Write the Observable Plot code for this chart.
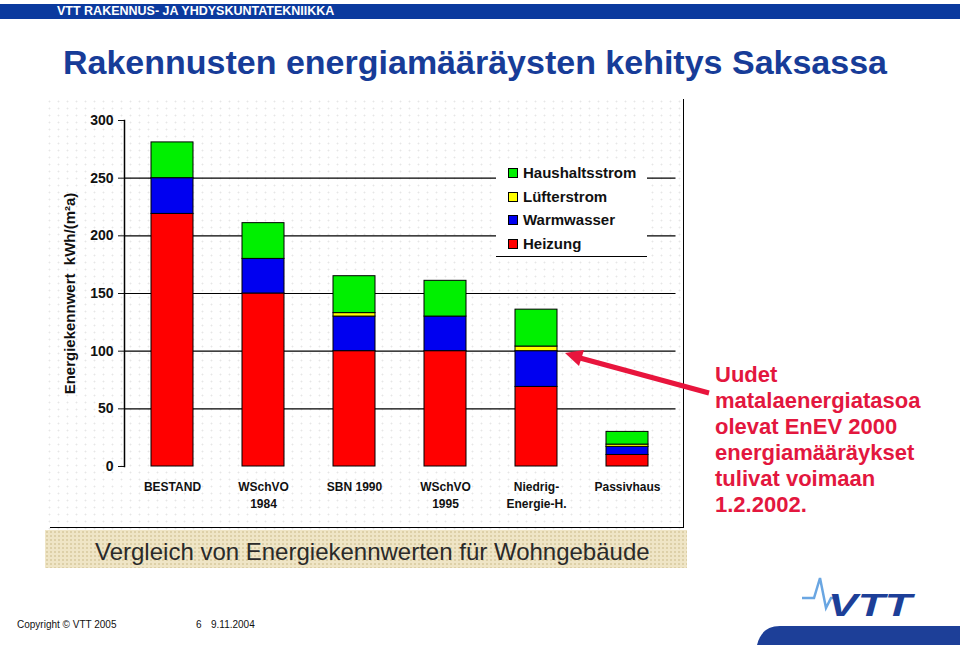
<!DOCTYPE html>
<html><head><meta charset="utf-8">
<script src="https://cdn.jsdelivr.net/npm/d3@7"></script>
<script src="https://cdn.jsdelivr.net/npm/@observablehq/plot@0.6"></script>
<style>
body{margin:0;background:#fff;font-family:"Liberation Sans",Arial,sans-serif;}
#page{position:relative;width:960px;height:645px;overflow:hidden;background:#fff;}
#band{position:absolute;left:0;top:4px;width:960px;height:15px;background:#0b3a9e;}
#band span{position:absolute;left:57px;top:0;line-height:15px;font-size:12.5px;font-weight:bold;color:#fff;white-space:nowrap;}
#title{position:absolute;left:63px;top:45px;font-size:34px;line-height:34px;font-weight:bold;color:#173c98;white-space:nowrap;}
#chartbg{position:absolute;left:45px;top:98px;width:642px;height:432px;background-color:#fff;
  background-image:radial-gradient(circle,#e6e6e6 0.7px,transparent 1.2px);background-size:9px 7px;}
#chart{position:absolute;left:45px;top:98px;}
#chart svg text{font-weight:bold;}
#frame{position:absolute;left:50px;top:99px;width:634px;height:429px;box-sizing:border-box;border-right:1.5px solid #000;border-bottom:1.5px solid #000;}
#legend{position:absolute;left:496px;top:160px;width:151px;height:97px;box-sizing:border-box;background:#fff;border-bottom:1.5px solid #000;padding-top:1px;}
.lrow{position:relative;height:23.5px;line-height:23.5px;font-size:15px;font-weight:bold;color:#111;white-space:nowrap;}
.lsw{position:absolute;left:12px;top:7px;width:8px;height:8px;border:1px solid #000;}
.ltx{position:absolute;left:27px;top:0;}
#caption{position:absolute;left:45px;top:530px;width:642px;height:38px;background-color:#efe5c6;
  background-image:radial-gradient(circle,#ddd0a8 0.8px,transparent 1.2px);background-size:4px 4px;}
#caption span{position:absolute;left:50px;top:10px;font-size:24px;line-height:24px;color:#2a2a2a;white-space:nowrap;}
#arrow{position:absolute;left:0;top:0;width:960px;height:645px;pointer-events:none;}
#note{position:absolute;left:715px;top:362px;font-size:22px;line-height:26px;font-weight:bold;color:#e3173e;white-space:nowrap;}
#footer{position:absolute;left:17px;top:620px;font-size:10px;line-height:10px;color:#111;white-space:nowrap;}
#logo{position:absolute;left:750px;top:570px;width:210px;height:75px;}
</style></head><body>
<div id="page">
  <div id="band"><span>VTT RAKENNUS- JA YHDYSKUNTATEKNIIKKA</span></div>
  <div id="title">Rakennusten energiamääräysten kehitys Saksassa</div>
  <div id="chartbg"></div>
  <div id="chart"></div>
  <div id="frame"></div>
  <div id="legend"></div>
  <div id="caption"><span>Vergleich von Energiekennwerten für Wohngebäude</span></div>
  <svg id="arrow" viewBox="0 0 960 645">
    <line x1="709" y1="393" x2="580" y2="358" stroke="#e8153d" stroke-width="5"/>
    <polygon points="565,353 584,350 579,366" fill="#e8153d"/>
  </svg>
  <div id="note">Uudet<br>matalaenergiatasoa<br>olevat EnEV 2000<br>energiamääräykset<br>tulivat voimaan<br>1.2.2002.</div>
  <div id="footer">Copyright © VTT 2005<span style="position:absolute;left:179px;top:0">6</span><span style="position:absolute;left:194px;top:0">9.11.2004</span></div>
  <svg id="logo" viewBox="0 0 210 75">
    <path d="M7,75 C10,63 17,56 30,56 L210,56 L210,75 Z" fill="#1d3f98"/>
    <polyline points="52,28 64,28 70,8 76,38 81,28 86,28" fill="none" stroke="#6aa6e2" stroke-width="2.5"/>
    <text x="78" y="46" font-family="Liberation Sans, Arial, sans-serif" font-weight="bold" font-style="italic" font-size="32" fill="#1d3f98" textLength="84" lengthAdjust="spacingAndGlyphs">VTT</text>
  </svg>
</div>
<script>
const categories = ["BESTAND", "WSchVO 1984", "SBN 1990", "WSchVO 1995", "Niedrig-Energie-H.", "Passivhaus"];
const tickLabels = ["BESTAND", "WSchVO\n1984", "SBN 1990", "WSchVO\n1995", "Niedrig-\nEnergie-H.", "Passivhaus"];
const heizung = [219, 150, 100, 100, 69, 10];
const warmwasser = [31, 30, 30, 30, 31, 7];
const lufterstrom = [0, 0, 3, 0, 4, 2];
const haushaltsstrom = [31, 31, 32, 31, 32, 11];
const stackNames = ["Heizung", "Warmwasser", "Lüfterstrom", "Haushaltsstrom"];
const stackColors = ["#ff0000", "#0000f0", "#ffff00", "#00f000"];
const legendNames = ["Haushaltsstrom", "Lüfterstrom", "Warmwasser", "Heizung"];
const yTicks = [0, 50, 100, 150, 200, 250, 300];
const gridValues = [50, 100, 150, 200, 250];
const yLabel = "Energiekennwert\u00a0\u00a0kWh/(m²a)";

const seriesValues = [heizung, warmwasser, lufterstrom, haushaltsstrom];
const rows = [];
stackNames.forEach((name, s) => {
  seriesValues[s].forEach((v, i) => {
    if (v > 0) rows.push({category: categories[i], component: name, value: v});
  });
});

const chart = Plot.plot({
  width: 642, height: 430,
  marginLeft: 79, marginRight: 11.5, marginTop: 22, marginBottom: 62,
  style: {background: "transparent", fontFamily: "Liberation Sans, Arial, sans-serif", color: "#111", overflow: "visible"},
  x: {domain: categories, paddingInner: 0.543, paddingOuter: 0.272, label: null},
  y: {domain: [0, 300], label: null},
  color: {domain: stackNames, range: stackColors},
  marks: [
    Plot.ruleY(gridValues, {stroke: "#000", strokeWidth: 1.2}),
    Plot.barY(rows, {x: "category", y: "value", fill: "component", stroke: "#000", strokeWidth: 1}),
    Plot.axisY({ticks: yTicks, tickSize: 6, tickPadding: 5, fontSize: 14, label: null}),
    Plot.axisY({ticks: [], label: yLabel, labelAnchor: "center", labelOffset: 60, labelArrow: "none", fontSize: 15}),
    Plot.axisX({tickSize: 0, tickPadding: 13, fontSize: 12, lineHeight: 1.4, label: null,
      tickFormat: d => tickLabels[categories.indexOf(d)]}),
    Plot.frame({anchor: "left", stroke: "#000", strokeWidth: 1.5})
  ]
});
document.getElementById("chart").appendChild(chart);

const legend = document.getElementById("legend");
legendNames.forEach(name => {
  const row = document.createElement("div");
  row.className = "lrow";
  const sw = document.createElement("span");
  sw.className = "lsw";
  sw.style.background = stackColors[stackNames.indexOf(name)];
  const tx = document.createElement("span");
  tx.className = "ltx";
  tx.textContent = name;
  row.appendChild(sw); row.appendChild(tx);
  legend.appendChild(row);
});
</script>
</body></html>
